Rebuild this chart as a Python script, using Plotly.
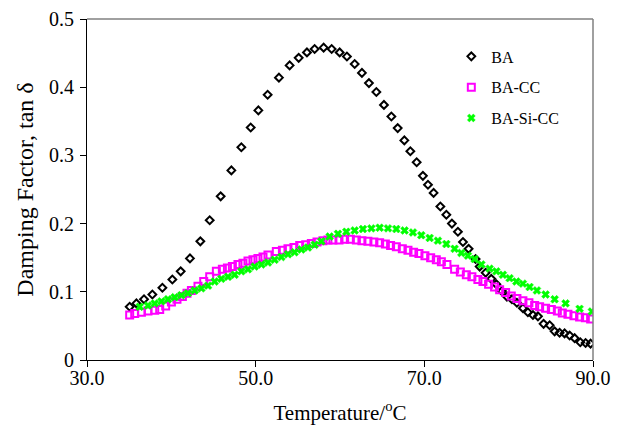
import plotly.graph_objects as go

# BA (tan delta)
ba_t = [35.06, 35.86, 36.76, 37.75, 38.94, 40.12, 41.11, 42.21, 43.44, 44.55, 45.85, 47.12, 48.30,
        49.41, 50.32, 51.42, 52.76, 54.03, 55.10, 56.08, 56.99, 58.06, 59.01, 59.96, 60.82, 61.74,
        62.60, 63.43, 64.31, 65.21, 66.09, 66.84, 67.63, 68.34, 69.09, 69.83, 70.43, 71.10, 71.90,
        72.61, 73.27, 73.98, 74.58, 75.25, 76.08, 76.56, 77.27, 77.94, 78.54, 79.20, 79.79, 80.39,
        80.98, 81.69, 82.28, 82.88, 83.47, 84.14, 84.86, 85.45, 86.04, 86.63, 87.23, 87.82, 88.49,
        89.12, 89.71]
ba_v = [0.078, 0.083, 0.089, 0.096, 0.106, 0.118, 0.130, 0.149, 0.174, 0.205, 0.240, 0.278, 0.312,
        0.341, 0.366, 0.389, 0.414, 0.432, 0.443, 0.451, 0.456, 0.458, 0.456, 0.451, 0.445, 0.434,
        0.421, 0.406, 0.393, 0.374, 0.357, 0.340, 0.322, 0.306, 0.290, 0.270, 0.257, 0.245, 0.225,
        0.213, 0.200, 0.188, 0.173, 0.163, 0.148, 0.137, 0.128, 0.119, 0.111, 0.101, 0.093, 0.089,
        0.084, 0.076, 0.070, 0.066, 0.064, 0.053, 0.051, 0.042, 0.040, 0.039, 0.036, 0.032, 0.026,
        0.025, 0.024]

# BA-CC
cc_t = [35.06, 35.66, 36.45, 37.23, 38.03, 38.62, 39.33, 40.01, 40.67, 41.31, 41.86, 42.38, 43.16,
        43.84, 44.55, 45.34, 46.05, 46.65, 47.24, 47.90, 48.49, 49.09, 49.68, 50.27, 50.87, 51.46,
        52.45, 53.17, 53.83, 54.54, 55.22, 55.93, 56.60, 57.27, 57.98, 58.57, 59.16, 59.88, 60.55,
        61.23, 61.94, 62.60, 63.31, 64.02, 64.70, 65.38, 66.00, 66.68, 67.39, 68.06, 68.73, 69.36,
        70.07, 70.75, 71.42, 72.02, 72.68, 73.59, 74.27, 74.98, 75.64, 76.35, 76.95, 77.62, 78.33,
        78.93, 79.64, 80.31, 80.98, 81.69, 82.40, 83.08, 83.67, 84.38, 85.06, 85.77, 86.36, 87.03,
        87.74, 88.41, 89.09, 89.72]
cc_v = [0.066, 0.068, 0.070, 0.072, 0.073, 0.074, 0.079, 0.085, 0.089, 0.093, 0.098, 0.102, 0.108,
        0.115, 0.122, 0.130, 0.133, 0.135, 0.137, 0.140, 0.142, 0.145, 0.147, 0.149, 0.151, 0.154,
        0.159, 0.161, 0.163, 0.165, 0.168, 0.169, 0.171, 0.173, 0.175, 0.176, 0.176, 0.176, 0.177,
        0.177, 0.176, 0.175, 0.174, 0.173, 0.172, 0.170, 0.168, 0.166, 0.163, 0.161, 0.158, 0.156,
        0.153, 0.150, 0.147, 0.144, 0.140, 0.133, 0.129, 0.125, 0.122, 0.118, 0.115, 0.111, 0.107,
        0.103, 0.099, 0.094, 0.090, 0.087, 0.084, 0.080, 0.078, 0.076, 0.074, 0.072, 0.069, 0.067,
        0.065, 0.063, 0.062, 0.060]

# BA-Si-CC
si_t = [36.25, 37.23, 38.03, 38.82, 39.60, 40.40, 41.19, 41.97, 42.77, 43.56, 44.35, 45.14, 45.93,
        46.72, 47.51, 48.30, 49.09, 49.88, 50.68, 51.46, 52.25, 53.05, 53.83, 54.62, 55.42, 56.20,
        57.00, 57.79, 58.77, 59.76, 60.75, 61.74, 62.72, 63.72, 64.70, 65.69, 66.68, 67.66, 68.65,
        69.64, 70.63, 71.61, 72.61, 73.59, 74.39, 75.17, 75.96, 76.76, 77.74, 78.54, 79.32, 80.11,
        80.91, 81.69, 82.48, 83.35, 84.38, 85.45, 86.75, 88.41, 89.87]
si_v = [0.078, 0.080, 0.083, 0.086, 0.089, 0.092, 0.095, 0.098, 0.102, 0.105, 0.109, 0.115, 0.119,
        0.122, 0.125, 0.130, 0.133, 0.137, 0.140, 0.143, 0.147, 0.151, 0.155, 0.158, 0.162, 0.165,
        0.169, 0.174, 0.181, 0.185, 0.188, 0.190, 0.192, 0.193, 0.194, 0.193, 0.192, 0.190, 0.187,
        0.183, 0.179, 0.175, 0.170, 0.163, 0.157, 0.153, 0.148, 0.140, 0.134, 0.130, 0.125, 0.120,
        0.115, 0.112, 0.107, 0.102, 0.096, 0.089, 0.083, 0.075, 0.071]

x_ticks = [30, 50, 70, 90]
x_tick_labels = ["30.0", "50.0", "70.0", "90.0"]
y_ticks = [0, 0.1, 0.2, 0.3, 0.4, 0.5]
y_tick_labels = ["0", "0.1", "0.2", "0.3", "0.4", "0.5"]

FONT = "Liberation Serif, Times New Roman, serif"

fig = go.Figure()
fig.add_trace(go.Scatter(x=ba_t, y=ba_v, mode="markers", name="BA", legendgroup="a",
                         marker=dict(symbol="diamond-open", size=6, color="black",
                                     line=dict(width=2, color="black"))))
fig.add_trace(go.Scatter(x=cc_t, y=cc_v, mode="markers", name="BA-CC", legendgroup="b",
                         marker=dict(symbol="square-open", size=7, color="#FF00FF",
                                     line=dict(width=2, color="#FF00FF"))))
fig.add_trace(go.Scatter(x=si_t, y=si_v, mode="markers", name="BA-Si-CC", legendgroup="c",
                         marker=dict(symbol="x", size=7, color="#00FF00",
                                     line=dict(width=0.5, color="#00FF00"))))

# the page body adds an 8px offset, so margins are shifted to compensate
fig.update_layout(
    width=622, height=436,
    margin=dict(l=79, r=37, t=11, b=84),
    paper_bgcolor="white", plot_bgcolor="white",
    font=dict(family=FONT, size=20, color="black"),
    showlegend=True,
    legend=dict(x=0.72, y=0.94, xanchor="left", yanchor="top",
                font=dict(family=FONT, size=16, color="black"),
                bgcolor="rgba(0,0,0,0)", tracegroupgap=7, itemwidth=30),
    xaxis=dict(range=[30, 90], tickvals=x_ticks, ticktext=x_tick_labels, automargin=False,
               showgrid=False, zeroline=False, showline=True, linecolor="black", linewidth=1,
               ticks="outside", ticklen=6, tickcolor="black", ticklabelstandoff=-6,
               tickfont=dict(family=FONT, size=20),
               title=dict(text="Temperature/<sup>o</sup>C", font=dict(family=FONT, size=21), standoff=17)),
    yaxis=dict(range=[0, 0.5], tickvals=y_ticks, ticktext=y_tick_labels, automargin=False,
               showgrid=False, zeroline=False, showline=True, linecolor="black", linewidth=1,
               ticks="outside", ticklen=6, tickcolor="black", ticklabelstandoff=2,
               tickfont=dict(family=FONT, size=20),
               title=dict(text="Damping Factor, tan δ", font=dict(family=FONT, size=24), standoff=8)),
    shapes=[
        dict(type="line", xref="x domain", yref="y domain", x0=0, x1=1, y0=1, y1=1,
             line=dict(color="#808080", width=1.5)),
        dict(type="line", xref="x domain", yref="y domain", x0=1, x1=1, y0=0, y1=1,
             line=dict(color="#808080", width=1.5)),
    ],
)

fig.write_html("out.html")
